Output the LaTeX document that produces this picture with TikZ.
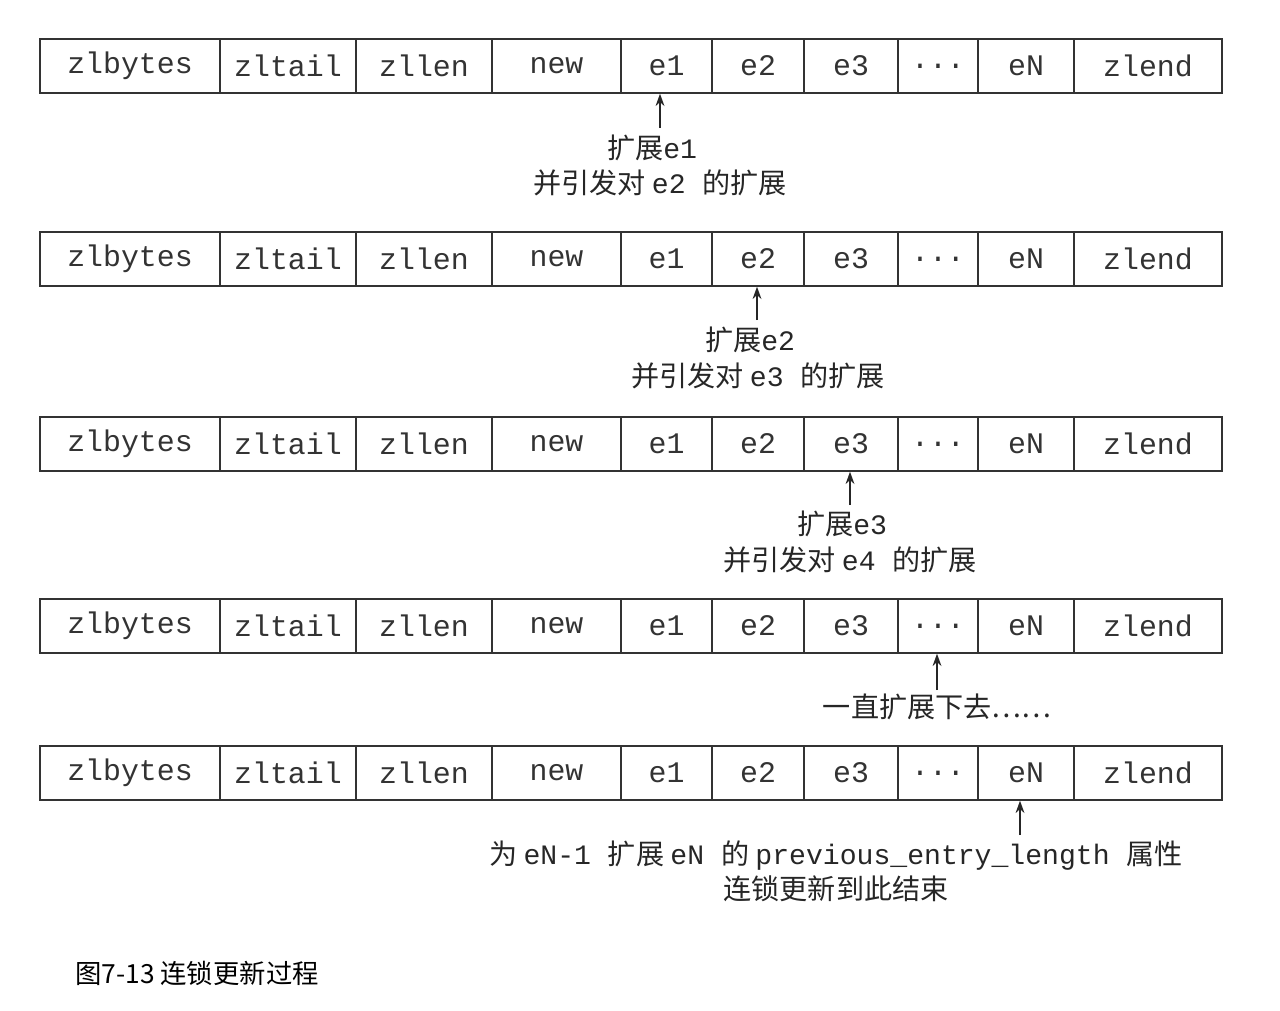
\documentclass[tikz,border=0pt]{standalone}
\usepackage{fontspec}
\setmainfont{Liberation Mono}
\newfontfamily\cjk{Noto Sans CJK SC}
\newfontfamily\capfont{Noto Sans CJK SC}
\usetikzlibrary{arrows.meta}
\tikzset{cell/.style={draw=black!80,line width=0.8pt,inner sep=0pt,font=\fontsize{17}{17}\selectfont\color{black!80}},
 lbl/.style={font=\fontsize{16}{18}\selectfont\color{black!85},inner sep=0pt},
 arr/.style={-{Stealth[length=7pt,width=5pt]},line width=1pt,black!85}}
\newcommand{\mydots}{...}
\begin{document}
\begin{tikzpicture}[x=0.02cm,y=-0.02cm]
\useasboundingbox (0,0) rectangle (1280,1010);
\foreach \r/\ya/\yb in {1/39/93,2/232/286,3/417/471,4/599/653,5/746/800}{
  \foreach \a/\b/\t [count=\k] in {40/220/zlbytes,220/356/zltail,356/492/zllen,492/621/new,621/712/e1,712/804/e2,804/898/e3,898/978/\mydots,978/1074/eN,1074/1222/zlend}{
    \node[cell,minimum width={(\b-\a)*0.02cm},minimum height={(\yb-\ya)*0.02cm}] (r\r c\k) at ({(\a+\b)/2},{(\ya+\yb)/2}) {\t};
  }
}
\coordinate (s1) at (660,128); \draw[arr] (s1) -- (r1c5.south -| s1);
\node[lbl] (t1a) at (652,148) {\cjk 扩展\rmfamily e1};
\node[lbl] (t1b) at (660,183) {\cjk 并引发对 \rmfamily e2 \cjk 的扩展};
\coordinate (s2) at (757,320); \draw[arr] (s2) -- (r2c6.south -| s2);
\node[lbl] (t2a) at (750,340) {\cjk 扩展\rmfamily e2};
\node[lbl] (t2b) at (758,376) {\cjk 并引发对 \rmfamily e3 \cjk 的扩展};
\coordinate (s3) at (850,505); \draw[arr] (s3) -- (r3c7.south -| s3);
\node[lbl] (t3a) at (842,524) {\cjk 扩展\rmfamily e3};
\node[lbl] (t3b) at (850,560) {\cjk 并引发对 \rmfamily e4 \cjk 的扩展};
\coordinate (s4) at (937,690); \draw[arr] (s4) -- (r4c8.south -| s4);
\node[lbl] (t4a) at (937,707) {\cjk 一直扩展下去……};
\coordinate (s5) at (1020,835); \draw[arr] (s5) -- (r5c9.south -| s5);
\node[lbl] (t5a) at (836,856) {\cjk 为 \rmfamily eN-1 \cjk 扩展 \rmfamily eN \cjk 的 \rmfamily previous\_entry\_length \cjk 属性};
\node[lbl] (t5b) at (836,889) {\cjk 连锁更新到此结束};
\node[anchor=west,inner sep=0pt,font=\capfont\fontsize{15}{15}\selectfont] (cap) at (75,973) {图7-13 连锁更新过程};
\end{tikzpicture}
\end{document}
